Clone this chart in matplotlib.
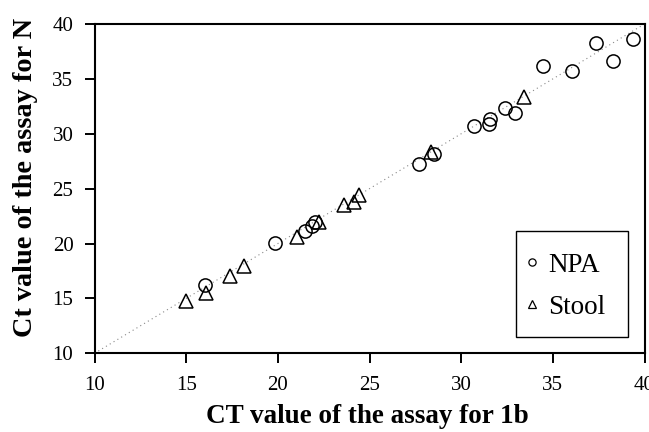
import matplotlib
matplotlib.use("Agg")
import matplotlib.pyplot as plt
import numpy as np

npa_x = [16.0, 19.86, 21.5, 21.87, 22.01, 27.69, 28.51, 30.7, 31.57, 31.52,
         32.39, 32.92, 34.47, 36.04, 37.35, 38.3, 39.39]
npa_y = [16.22, 20.02, 21.17, 21.62, 21.99, 27.24, 28.15, 30.7, 31.34, 30.88,
         32.31, 31.86, 36.17, 35.74, 38.29, 36.62, 38.6]
stool_x = [15.0, 16.09, 17.37, 18.15, 21.05, 22.27, 23.6, 24.14, 24.42, 28.33, 33.43]
stool_y = [14.79, 15.52, 17.04, 17.95, 20.62, 21.93, 23.51, 23.81, 24.42, 28.36, 33.37]
ticks = [10, 15, 20, 25, 30, 35, 40]
line_pts = [10, 40]

plt.rcParams['font.family'] = ['Liberation Serif', 'DejaVu Serif']

W, H = 649, 432
L, R, T, B = 94.5, 644.5, 24, 353.3
fig = plt.figure(figsize=(W/100, H/100), dpi=100)
ax = fig.add_axes([L/W, 1-B/H, (R-L)/W, (B-T)/H])

ax.plot(line_pts, line_pts, linestyle=(0, (1, 3)), color='#888888', linewidth=0.8, zorder=1)
ax.plot(npa_x, npa_y, linestyle='none', marker='o', markersize=9.5,
        markerfacecolor='none', markeredgecolor='black', markeredgewidth=1.1,
        label='NPA', zorder=3)
ax.plot(stool_x, stool_y, linestyle='none', marker='^', markersize=10,
        markerfacecolor='none', markeredgecolor='black', markeredgewidth=1.1,
        label='Stool', zorder=3)

ax.set_xlim(10, 40)
ax.set_ylim(10, 40)
ax.set_xticks(ticks)
ax.set_yticks(ticks)
ax.tick_params(axis='both', direction='out', length=7.2, width=1.4, labelsize=15)
ax.tick_params(axis='x', pad=9)
ax.tick_params(axis='y', pad=8)
for s in ax.spines.values():
    s.set_linewidth(1.5)

ax.set_xlabel('CT value of the assay for 1b', fontsize=19.5, fontweight='bold')
ax.set_ylabel('Ct value of the assay for N', fontsize=20.3, fontweight='bold')
ax.xaxis.set_label_coords((367 - L)/(R - L), (B - 404)/(B - T))
ax.yaxis.set_label_coords((38 - L)/(R - L), (B - 177.5)/(B - T))

leg_handles = [
    plt.Line2D([], [], linestyle='none', marker='o', markersize=5.2,
               markerfacecolor='none', markeredgecolor='black', markeredgewidth=0.9),
    plt.Line2D([], [], linestyle='none', marker='^', markersize=6.2,
               markerfacecolor='none', markeredgecolor='black', markeredgewidth=0.9),
]
x0 = (516 - L)/(R - L)
w = (627.7 - 516)/(R - L)
y0 = (B - 337.3)/(B - T)
leg = ax.legend(leg_handles, ['NPA', 'Stool'], loc='lower left',
                bbox_to_anchor=(x0, y0, w, 0.3), mode='expand', borderaxespad=0,
                fontsize=19.5, fancybox=False, edgecolor='black', framealpha=1,
                handlelength=0.4, handleheight=2.02, handletextpad=0.4,
                labelspacing=0.0, borderpad=0.4)
leg.get_frame().set_linewidth(1.0)
for hnd in leg.legend_handles:
    hnd.set_ydata(np.asarray(hnd.get_ydata(), dtype=float) - 3.6)

fig.savefig('out.png', dpi=100)
